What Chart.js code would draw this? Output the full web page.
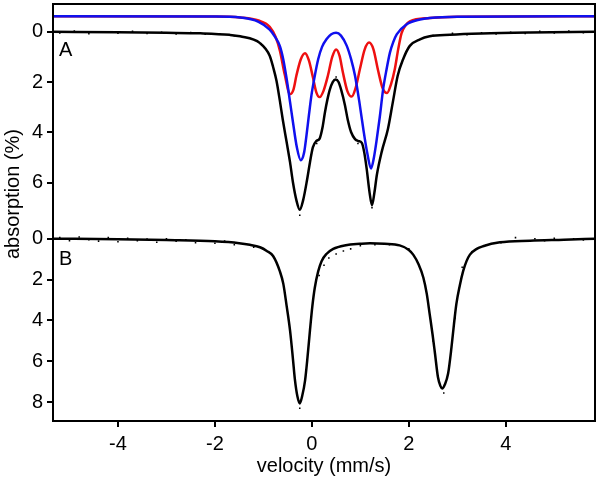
<!DOCTYPE html>
<html>
<head>
<meta charset="utf-8">
<script src="https://cdn.jsdelivr.net/npm/chart.js@4.4.1/dist/chart.umd.min.js"></script>
<style>
  html, body { margin: 0; padding: 0; background: #fff; }
  #wrap { width: 600px; height: 478px; position: relative; }
</style>
</head>
<body>
<div id="wrap"><canvas id="chart"></canvas></div>
<script>
  // velocity ticks and absorption ticks for the two stacked panels
  var xTicks = [-4, -2, 0, 2, 4];
  var yTicksA = [0, 2, 4, 6];
  var yTicksB = [0, 2, 4, 6, 8];

  // panel A: total fit (black)
  var velA = [-5.34, -4, -3, -2.3, -1.7, -1.48, -1.07, -0.87, -0.8, -0.73, -0.66, -0.6, -0.52, -0.45, -0.39, -0.32, -0.25, -0.18, -0.1, -0.04, 0.02, 0.09, 0.16, 0.22, 0.27, 0.32, 0.37, 0.43, 0.49, 0.55, 0.61, 0.68, 0.74, 0.81, 0.89, 0.96, 1.03, 1.08, 1.13, 1.19, 1.24, 1.29, 1.34, 1.44, 1.57, 1.67, 1.77, 1.88, 2.02, 2.23, 2.43, 2.85, 3.5, 4.5, 5.84];
  var fitA = [0.0, 0.02, 0.04, 0.06, 0.12, 0.18, 0.45, 0.95, 1.4, 1.95, 2.75, 3.5, 4.4, 5.2, 6.0, 6.7, 7.08, 6.7, 5.9, 5.2, 4.6, 4.35, 4.25, 3.8, 3.2, 2.7, 2.3, 2.0, 1.9, 2.0, 2.35, 2.9, 3.5, 4.0, 4.27, 4.35, 4.42, 4.8, 5.45, 6.4, 6.9, 6.4, 5.7, 4.78, 3.86, 2.8, 1.75, 1.1, 0.56, 0.3, 0.18, 0.12, 0.07, 0.03, 0.0];

  // panel A: red component (offset baseline)
  var velRed = [-5.34, -2, -1.48, -1.1, -0.87, -0.75, -0.66, -0.56, -0.45, -0.38, -0.32, -0.23, -0.14, -0.06, 0.02, 0.09, 0.16, 0.24, 0.33, 0.42, 0.5, 0.57, 0.64, 0.73, 0.82, 0.9, 0.99, 1.09, 1.18, 1.27, 1.36, 1.46, 1.55, 1.63, 1.71, 1.78, 1.85, 1.93, 2.02, 2.43, 3, 5.84];
  var red = [-0.62, -0.61, -0.57, -0.45, -0.2, 0.2, 0.75, 1.7, 2.48, 2.3, 1.75, 1.1, 0.85, 1.15, 1.8, 2.4, 2.6, 2.35, 1.75, 1.0, 0.7, 0.95, 1.62, 2.35, 2.58, 2.25, 1.49, 0.7, 0.43, 0.7, 1.49, 2.25, 2.44, 2.1, 1.49, 0.7, 0.05, -0.25, -0.42, -0.55, -0.6, -0.62];

  // panel A: blue component (offset baseline)
  var velBlue = [-5.34, -2, -1.48, -1.1, -0.87, -0.76, -0.66, -0.59, -0.52, -0.45, -0.39, -0.31, -0.23, -0.16, -0.11, -0.06, -0.01, 0.06, 0.13, 0.21, 0.3, 0.4, 0.5, 0.6, 0.72, 0.81, 0.89, 0.98, 1.06, 1.14, 1.22, 1.28, 1.33, 1.4, 1.47, 1.54, 1.61, 1.68, 1.75, 1.95, 2.23, 2.43, 3, 5.84];
  var blue = [-0.62, -0.61, -0.57, -0.4, -0.09, 0.2, 0.57, 1.1, 1.88, 2.8, 3.6, 4.6, 5.11, 4.8, 4.1, 3.3, 2.54, 1.75, 1.09, 0.6, 0.3, 0.1, 0.04, 0.15, 0.56, 1.1, 1.75, 2.8, 3.86, 4.8, 5.44, 5.0, 4.39, 3.4, 2.28, 1.5, 0.83, 0.4, 0.1, -0.29, -0.49, -0.55, -0.6, -0.62];

  // panel A: measured points
  var velDotsA = [-5.2, -4.9, -4.6, -4.3, -4.0, -3.7, -3.4, -3.1, -2.8, -2.5, -2.2, -1.9, -1.6, -1.3, -0.6, -0.25, 0.1, 0.5, 0.95, 1.24, 1.3, 2.5, 2.9, 3.2, 3.5, 3.8, 4.1, 4.4, 4.7, 5.0, 5.3, 5.6];
  var dotsA = [0.05, -0.03, 0.08, 0.0, 0.06, -0.02, 0.07, 0.02, 0.09, 0.03, 0.1, 0.08, 0.16, 0.25, 3.6, 7.3, 4.45, 1.8, 4.45, 7.0, 6.2, 0.15, 0.06, 0.12, 0.04, 0.09, 0.02, 0.07, -0.02, 0.05, -0.03, 0.04];

  // panel B: fit (black)
  var velB = [-5.34, -4, -3, -2, -1.5, -1.28, -1.07, -0.93, -0.8, -0.66, -0.59, -0.52, -0.45, -0.39, -0.35, -0.3, -0.25, -0.2, -0.14, -0.09, -0.04, 0.01, 0.06, 0.13, 0.2, 0.3, 0.44, 0.7, 0.99, 1.2, 1.5, 1.81, 2.0, 2.09, 2.2, 2.3, 2.37, 2.43, 2.49, 2.54, 2.6, 2.65, 2.69, 2.74, 2.81, 2.88, 2.93, 2.98, 3.05, 3.12, 3.19, 3.26, 3.4, 3.53, 3.88, 4.5, 5.2, 5.84];
  var fitB = [0.0, 0.03, 0.07, 0.13, 0.22, 0.3, 0.42, 0.6, 0.85, 1.6, 2.2, 3.3, 4.5, 5.9, 6.9, 7.7, 8.06, 7.7, 6.93, 5.8, 4.5, 3.3, 2.4, 1.6, 1.1, 0.75, 0.5, 0.32, 0.25, 0.22, 0.25, 0.33, 0.55, 0.78, 1.25, 1.91, 2.7, 3.69, 4.7, 5.63, 6.77, 7.2, 7.33, 7.15, 6.6, 5.31, 4.2, 3.2, 2.3, 1.59, 1.1, 0.78, 0.5, 0.37, 0.18, 0.1, 0.05, 0.0];

  // panel B: measured points
  var velDotsB = [-5.2, -5.0, -4.8, -4.6, -4.4, -4.2, -4.0, -3.8, -3.6, -3.4, -3.2, -3.0, -2.8, -2.6, -2.4, -2.2, -2.0, -1.8, -1.6, -1.4, -1.2, -1.0, -0.25, 0.15, 0.25, 0.35, 0.5, 0.65, 0.8, 1.0, 1.3, 1.6, 2.0, 2.5, 2.72, 2.95, 3.1, 3.3, 3.6, 3.9, 4.2, 4.4, 4.6, 4.8, 5.0, 5.2, 5.4, 5.6];
  var dotsB = [-0.05, 0.1, -0.08, 0.05, 0.12, -0.05, 0.15, -0.02, 0.1, 0.02, 0.18, 0.0, 0.12, 0.05, 0.2, 0.1, 0.22, 0.12, 0.3, 0.25, 0.42, 0.5, 8.3, 1.8, 1.3, 0.95, 0.75, 0.6, 0.5, 0.35, 0.3, 0.3, 0.5, 5.0, 7.55, 3.9, 1.4, 0.65, 0.3, 0.2, -0.05, 0.12, 0.0, 0.1, -0.02, 0.08, 0.0, 0.06];

  function pts(xs, ys) {
    return xs.map(function (x, i) { return { x: x, y: ys[i] }; });
  }

  var FONT = "'Liberation Sans', Arial, sans-serif";
  var SIZE = 20;

  function curve(xs, ys, color, axis) {
    return {
      data: pts(xs, ys), yAxisID: axis, borderColor: color, borderWidth: 2.5,
      pointRadius: 0, fill: false, cubicInterpolationMode: "monotone"
    };
  }
  function dots(xs, ys, axis) {
    return {
      data: pts(xs, ys), yAxisID: axis, showLine: false, pointStyle: "rect",
      pointRadius: 1.1, pointBackgroundColor: "#000", pointBorderWidth: 0
    };
  }

  var framePlugin = {
    id: "frame",
    afterDraw: function (chart) {
      var a = chart.chartArea, ctx = chart.ctx;
      ctx.save();
      ctx.strokeStyle = "#000";
      ctx.lineWidth = 2;
      ctx.strokeRect(a.left, a.top, a.right - a.left, a.bottom - a.top);
      ctx.fillStyle = "#000";
      ctx.font = SIZE + "px " + FONT;
      ctx.textBaseline = "middle";
      ctx.textAlign = "left";
      ctx.fillText("A", a.left + 6, 50);
      ctx.fillText("B", a.left + 6, 259);
      ctx.textAlign = "center";
      ctx.fillText("velocity (mm/s)", 324, 466);
      ctx.translate(13, 194);
      ctx.rotate(-Math.PI / 2);
      ctx.fillText("absorption (%)", 0, 0);
      ctx.restore();
    }
  };

  function yAxis(min, max, ticks, weight) {
    return {
      type: "linear", position: "left", stack: "panels", stackWeight: weight,
      reverse: true, min: min, max: max,
      afterBuildTicks: function (s) { s.ticks = ticks.map(function (v) { return { value: v }; }); },
      afterFit: function (s) { s.width = 53; s.paddingTop = 0; s.paddingBottom = 0; },
      grid: { drawOnChartArea: false, drawTicks: true, tickLength: 6, color: "#000", lineWidth: 2 },
      border: { display: true, color: "#000", width: 2 },
      ticks: { color: "#000", padding: 4, font: { family: FONT, size: SIZE } }
    };
  }

  new Chart(document.getElementById("chart"), {
    type: "line",
    data: {
      datasets: [
        curve(velBlue, blue, "#1010ee", "yA"),
        curve(velRed, red, "#ee1010", "yA"),
        curve(velA, fitA, "#000", "yA"),
        dots(velDotsA, dotsA, "yA"),
        curve(velB, fitB, "#000", "yB"),
        dots(velDotsB, dotsB, "yB")
      ]
    },
    options: {
      responsive: true,
      maintainAspectRatio: false,
      animation: false,
      layout: { padding: { top: 1, right: 5, left: 0, bottom: 0 } },
      plugins: { legend: { display: false }, tooltip: { enabled: false } },
      scales: {
        x: {
          type: "linear", min: -5.34, max: 5.84,
          afterBuildTicks: function (s) { s.ticks = xTicks.map(function (v) { return { value: v }; }); },
          afterFit: function (s) { s.height = 57; },
          grid: { drawOnChartArea: false, drawTicks: true, tickLength: 6, color: "#000", lineWidth: 2 },
          border: { display: true, color: "#000", width: 2 },
          ticks: { color: "#000", padding: 5, maxRotation: 0, font: { family: FONT, size: SIZE } }
        },
        // later stacked left axis is placed on top, so panel B comes first
        yB: yAxis(-0.94, 8.92, yTicksB, 203),
        yA: yAxis(-1.107, 7.47, yTicksA, 217)
      }
    },
    plugins: [framePlugin]
  });
</script>
</body>
</html>
